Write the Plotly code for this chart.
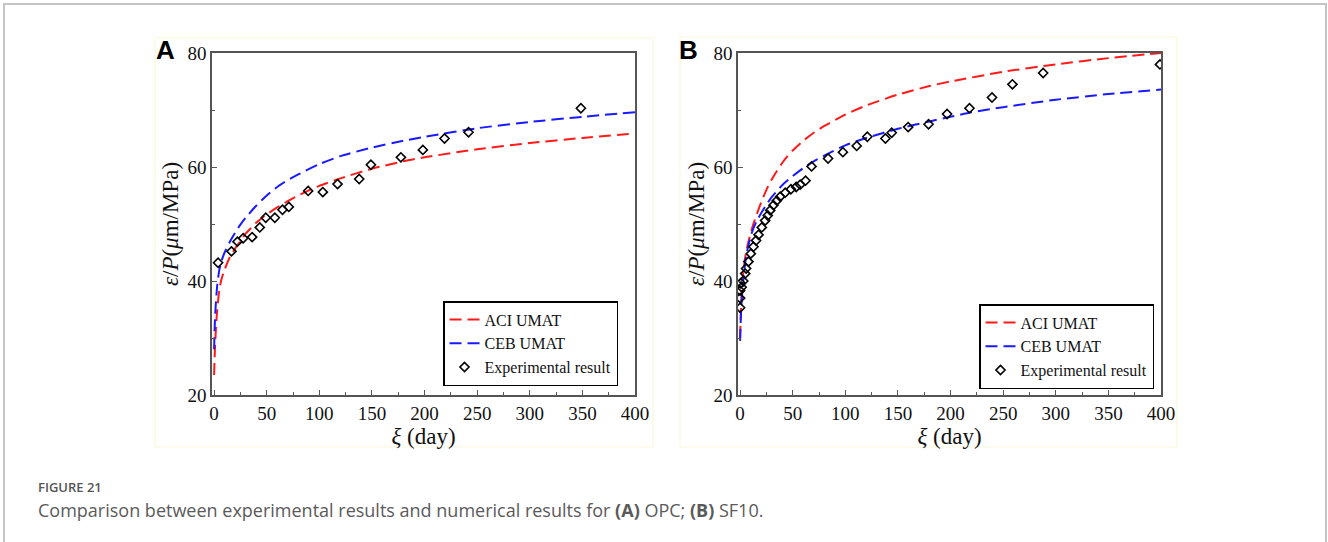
import plotly.graph_objects as go

# ---------------- data ----------------
# Panel A (OPC)
a_aci_x = [0, 0.5, 1, 2, 3, 5, 7, 10, 15, 20, 25, 30, 40, 50, 60, 70, 80, 90, 100, 120, 150, 180, 200, 250, 300, 350, 400]
a_aci_y = [23.5, 26.5, 29.0, 32.5, 35.0, 38.5, 40.3, 42.0, 44.2, 45.7, 47.0, 48.3, 50.2, 51.7, 52.9, 54.0, 55.0, 55.9, 56.7, 58.0, 59.7, 61.0, 61.7, 63.1, 64.2, 65.1, 65.9]
a_ceb_x = [0, 0.5, 1, 2, 3, 5, 7, 10, 15, 20, 25, 30, 40, 50, 60, 70, 80, 100, 120, 150, 180, 200, 250, 300, 350, 400]
a_ceb_y = [28.0, 31.5, 34.0, 37.0, 39.3, 42.0, 43.5, 45.0, 46.9, 48.5, 49.9, 51.1, 53.2, 55.0, 56.5, 57.7, 58.7, 60.5, 61.9, 63.4, 64.6, 65.3, 66.8, 67.9, 68.8, 69.6]
a_exp_x = [3.8, 16.5, 22.2, 27.6, 36.1, 43.4, 49.1, 57.7, 65.0, 71.0, 89.4, 103.3, 117.3, 137.9, 149.0, 177.5, 198.4, 219.0, 241.8, 348.6]
a_exp_y = [43.2, 45.2, 46.9, 47.5, 47.7, 49.4, 51.1, 51.1, 52.5, 53.0, 55.8, 55.6, 57.0, 57.9, 60.4, 61.7, 63.0, 65.0, 66.1, 70.3]

# Panel B (SF10)
b_aci_x = [0, 0.5, 1, 2, 3, 5, 7, 10, 13, 16, 20, 25, 30, 35, 40, 45, 50, 60, 70, 80, 100, 120, 150, 180, 200, 250, 300, 350, 400]
b_aci_y = [30.0, 33.5, 36.0, 39.5, 41.5, 44.3, 46.2, 48.4, 50.2, 51.8, 53.8, 56.0, 57.8, 59.3, 60.7, 61.9, 62.9, 64.6, 66.0, 67.2, 69.2, 70.8, 72.7, 74.2, 75.0, 76.7, 78.0, 79.1, 80.0]
b_ceb_x = [0, 0.5, 1, 2, 3, 5, 7, 10, 13, 16, 20, 25, 30, 40, 50, 60, 70, 80, 100, 120, 150, 180, 200, 220, 250, 300, 350, 400]
b_ceb_y = [29.5, 32.5, 35.0, 38.0, 40.0, 43.5, 45.5, 47.8, 49.4, 50.6, 51.9, 53.4, 54.7, 56.8, 58.4, 59.8, 61.0, 62.0, 63.8, 65.1, 66.7, 68.0, 68.8, 69.6, 70.5, 71.8, 72.8, 73.6]
b_exp_x = [0, 0, 0, 0.5, 1.5, 3, 4.8, 5.7, 7.9, 10.2, 12.7, 15.2, 17.5, 20.6, 23.8, 26.3, 28.6, 31.7, 34.9, 38.1, 42.9, 48.3, 53.3, 57.1, 62.2, 67.9, 83.6, 97.7, 110.8, 120.9, 138.1, 144.1, 159.7, 179.1, 196.7, 218.0, 239.4, 258.8, 288.0, 399.0]
b_exp_y = [35.3, 37.0, 38.3, 39.6, 38.9, 40.0, 41.3, 42.2, 43.4, 44.8, 46.0, 47.1, 48.1, 49.4, 50.6, 51.5, 52.4, 53.3, 54.1, 54.8, 55.5, 56.1, 56.5, 56.9, 57.6, 60.1, 61.5, 62.6, 63.7, 65.3, 65.0, 66.0, 67.0, 67.5, 69.3, 70.3, 72.2, 74.5, 76.5, 78.0]

x_ticks = [0, 50, 100, 150, 200, 250, 300, 350, 400]
y_ticks = [20, 40, 60, 80]
names = ["ACI UMAT", "CEB UMAT", "Experimental result"]

W, H = 1328, 542
SERIF = "Liberation Serif, Times New Roman, serif"

fig = go.Figure()

def add_panel(xa, ya, leg, aci_x, aci_y, ceb_x, ceb_y, exp_x, exp_y):
    fig.add_trace(go.Scatter(x=aci_x, y=aci_y, mode="lines", name=names[0],
                             line=dict(color="#ff1a1a", width=2, dash="12px,6px", shape="spline", smoothing=0.6),
                             xaxis=xa, yaxis=ya, legend=leg))
    fig.add_trace(go.Scatter(x=ceb_x, y=ceb_y, mode="lines", name=names[1],
                             line=dict(color="#1a1aff", width=2, dash="12px,6px", shape="spline", smoothing=0.6),
                             xaxis=xa, yaxis=ya, legend=leg))
    fig.add_trace(go.Scatter(x=exp_x, y=exp_y, mode="markers", name=names[2],
                             marker=dict(symbol="diamond-open", size=7, color="black", line=dict(width=1.6, color="black")),
                             xaxis=xa, yaxis=ya, legend=leg))

add_panel("x", "y", "legend", a_aci_x, a_aci_y, a_ceb_x, a_ceb_y, a_exp_x, a_exp_y)
add_panel("x2", "y2", "legend2", b_aci_x, b_aci_y, b_ceb_x, b_ceb_y, b_exp_x, b_exp_y)

ydom = [1 - 395 / H, 1 - 53 / H]

def xaxis(dom, anchor):
    return dict(domain=dom, anchor=anchor, range=[-2, 400], tickvals=x_ticks, automargin=False,
                ticks="inside", ticklen=5, tickwidth=1.3, tickcolor="#555",
                minor=dict(ticks="inside", ticklen=3, dtick=25, tick0=0, tickcolor="#555", tickwidth=1.2),
                showline=True, linecolor="#555", linewidth=1.6, mirror=True,
                showgrid=False, zeroline=False,
                tickfont=dict(family=SERIF, size=19, color="#111"),
                title=dict(text="<i>ξ</i> (day)", font=dict(family=SERIF, size=23, color="#111"), standoff=2))

def yaxis(anchor):
    return dict(domain=ydom, anchor=anchor, range=[20, 80], tickvals=y_ticks, automargin=False,
                ticks="inside", ticklen=5, tickwidth=1.3, tickcolor="#555",
                minor=dict(ticks="inside", ticklen=3, dtick=10, tick0=20, tickcolor="#555", tickwidth=1.2),
                showline=True, linecolor="#555", linewidth=1.6, mirror=True,
                showgrid=False, zeroline=False,
                tickfont=dict(family=SERIF, size=19, color="#111"),
                title=dict(text="<i>ε</i>/<i>P</i>(<i>μ</i>m/MPa)", font=dict(family=SERIF, size=23, color="#111"), standoff=2))

legend_style = dict(bgcolor="white", bordercolor="black", borderwidth=1.5,
                    font=dict(family=SERIF, size=16, color="#111"),
                    xanchor="right", yanchor="middle", tracegroupgap=0, itemwidth=30)

fig.update_layout(
    width=W, height=H, autosize=False,
    margin=dict(l=0, r=0, t=0, b=0, autoexpand=False),
    paper_bgcolor="white", plot_bgcolor="white",
    xaxis=xaxis([212 / W, 635 / W], "y"),
    yaxis=yaxis("x"),
    xaxis2=xaxis([738 / W, 1161 / W], "y2"),
    yaxis2=yaxis("x2"),
    legend=dict(x=618 / W, y=1 - 343.5 / H, **legend_style),
    legend2=dict(x=1154 / W, y=1 - 346.5 / H, **legend_style),
    shapes=[
        dict(type="rect", xref="paper", yref="paper", x0=4 / W, x1=1326 / W, y0=-0.2, y1=1 - 4 / H,
             line=dict(color="#c4c4c4", width=2), layer="below"),
        dict(type="rect", xref="paper", yref="paper", x0=155 / W, x1=653 / W, y0=1 - 447 / H, y1=1 - 38 / H,
             line=dict(color="#fbf8d8", width=1.2), layer="below"),
        dict(type="rect", xref="paper", yref="paper", x0=680 / W, x1=1177 / W, y0=1 - 447 / H, y1=1 - 37 / H,
             line=dict(color="#fbf8d8", width=1.2), layer="below"),
    ],
    annotations=[
        dict(text="<b>A</b>", xref="paper", yref="paper", x=165.5 / W, y=1 - 49.5 / H, showarrow=False,
             xanchor="center", yanchor="middle", font=dict(family="Liberation Sans, Arial, sans-serif", size=26, color="black")),
        dict(text="<b>B</b>", xref="paper", yref="paper", x=688.5 / W, y=1 - 49.5 / H, showarrow=False,
             xanchor="center", yanchor="middle", font=dict(family="Liberation Sans, Arial, sans-serif", size=26, color="black")),
        dict(text="FIGURE 21", xref="paper", yref="paper", x=36 / W, y=1 - 487 / H, showarrow=False,
             xanchor="left", yanchor="middle", font=dict(family="Open Sans, sans-serif", size=13, color="#555", weight=600)),
        dict(text="Comparison between experimental results and numerical results for <b>(A)</b> OPC; <b>(B)</b> SF10.",
             xref="paper", yref="paper", x=36 / W, y=1 - 509.5 / H, showarrow=False,
             xanchor="left", yanchor="middle", font=dict(family="Open Sans, sans-serif", size=18, color="#5a5a5a")),
    ],
)

fig.write_html("out.html")
